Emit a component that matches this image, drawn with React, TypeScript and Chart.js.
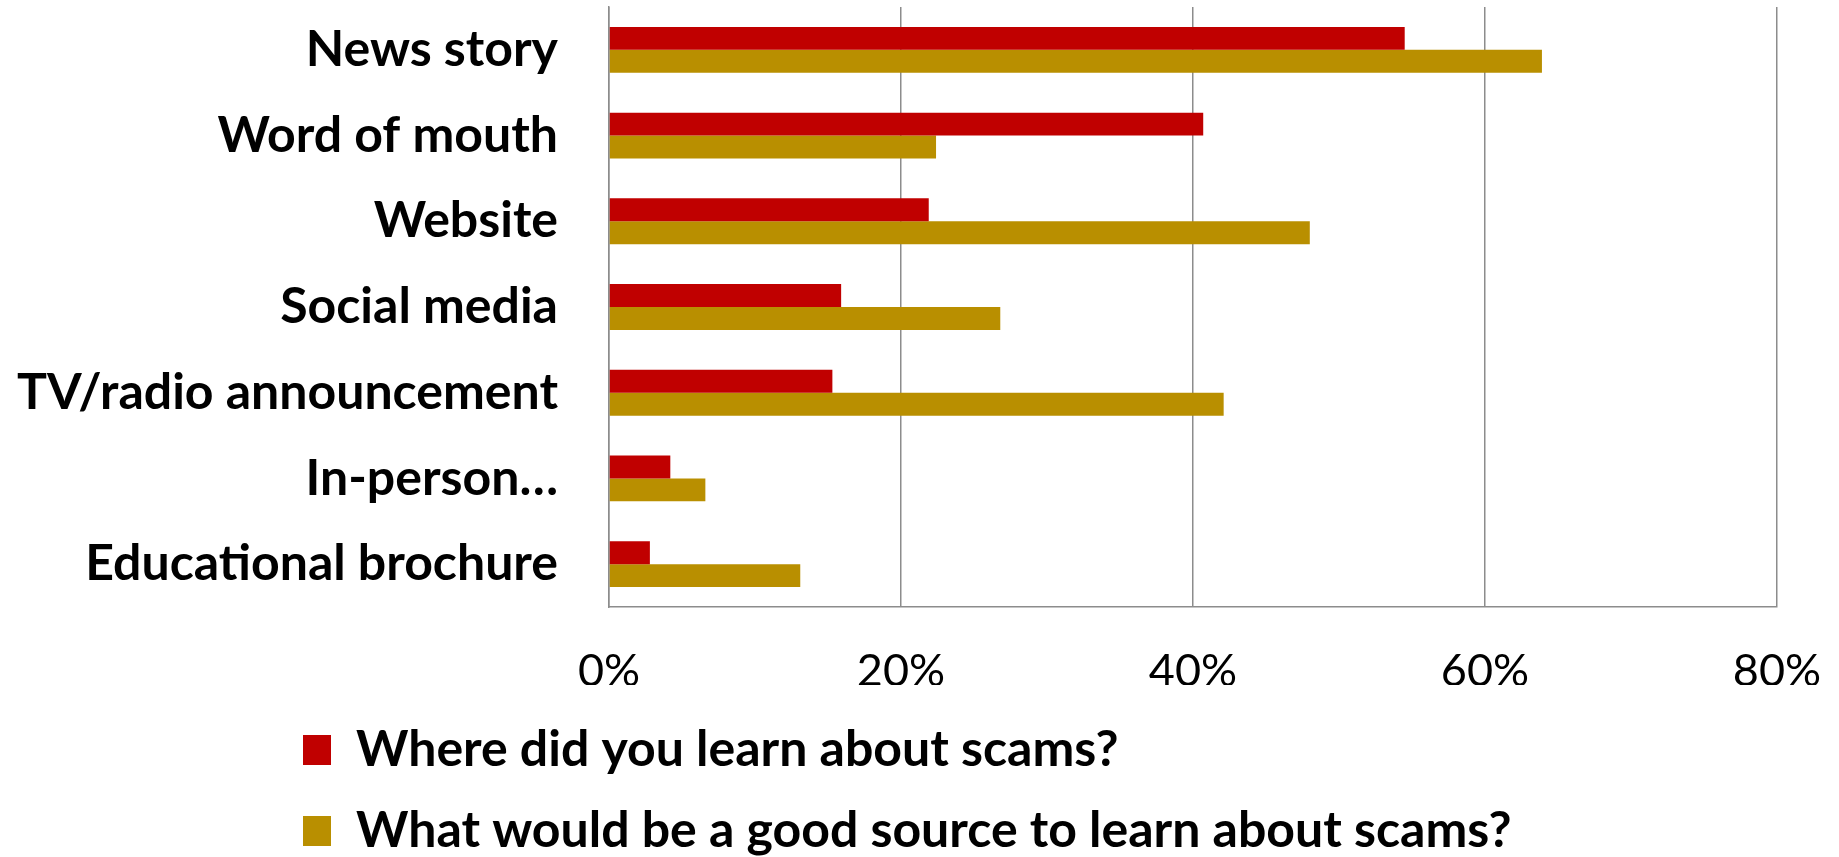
import React, { useEffect, useRef } from 'react';
import { Chart, registerables } from 'chart.js';

Chart.register(...registerables);

const categories = [
  'News story',
  'Word of mouth',
  'Website',
  'Social media',
  'TV/radio announcement',
  'In-person…',
  'Educational brochure',
];
const learnedValues = [54.5, 40.7, 21.9, 15.9, 15.3, 4.2, 2.8];
const goodSourceValues = [63.9, 22.4, 48.0, 26.8, 42.1, 6.6, 13.1];
const seriesNames = [
  'Where did you learn about scams?',
  'What would be a good source to learn about scams?',
];
const xTickValues = [0, 20, 40, 60, 80];

const FONT = 'Lato, "Open Sans", sans-serif';
const GRID = '#8c8c8c';

const legendPlacer = {
  id: 'legendPlacer',
  afterLayout(chart: any) {
    const lg = chart.legend;
    if (!lg) return;
    const dx = 272 - lg.left;
    lg.left += dx;
    lg.right += dx;
    const dy = 694 - lg.top;
    lg.top += dy;
    lg.bottom += dy;
  },
};

export default function App() {
  const ref = useRef<HTMLCanvasElement | null>(null);

  useEffect(() => {
    if (!ref.current) return;
    const chart = new Chart(ref.current, {
      type: 'bar',
      data: {
        labels: categories,
        datasets: [
          {
            label: seriesNames[0],
            data: learnedValues,
            backgroundColor: '#C00000',
            categoryPercentage: 0.535,
            barPercentage: 1,
          },
          {
            label: seriesNames[1],
            data: goodSourceValues,
            backgroundColor: '#B98F00',
            categoryPercentage: 0.535,
            barPercentage: 1,
          },
        ],
      },
      options: {
        indexAxis: 'y',
        responsive: false,
        animation: false,
        layout: { padding: { top: 7, right: 62, left: 0, bottom: 0 } },
        scales: {
          x: {
            min: xTickValues[0],
            max: xTickValues[xTickValues.length - 1],
            afterBuildTicks: (s: any) => {
              s.ticks = xTickValues.map((v) => ({ value: v }));
            },
            ticks: {
              callback: (v: any) => v + '%',
              font: { family: FONT, size: 45 },
              color: '#000',
              padding: 37,
            },
            grid: { color: GRID, lineWidth: 1.5, drawTicks: false },
            border: { display: true, color: GRID, width: 1.5 },
            afterFit: (s: any) => {
              s.height = 78;
              s.paddingLeft = 0;
              s.paddingRight = 0;
            },
          },
          y: {
            ticks: {
              font: { family: FONT, size: 50, weight: 'bold' },
              color: '#000',
              padding: 51,
            },
            grid: { display: false, drawTicks: false },
            border: { display: true, color: GRID, width: 1.5 },
            afterFit: (s: any) => {
              s.width = 609;
              s.paddingTop = 0;
              s.paddingBottom = 0;
            },
          },
        },
        plugins: {
          legend: {
            position: 'bottom',
            align: 'start',
            labels: {
              font: { family: FONT, size: 50, weight: 'bold' },
              color: '#000',
              boxWidth: 28,
              boxHeight: 30,
              padding: 31,
            },
          },
          tooltip: { enabled: false },
        },
      },
      plugins: [legendPlacer],
    } as any);
    return () => chart.destroy();
  }, []);

  return (
    <div style={{ position: 'fixed', left: 0, top: 0, width: 1839, height: 857, background: '#fff' }}>
      <canvas ref={ref} width={1839} height={857} style={{ display: 'block' }} />
    </div>
  );
}
